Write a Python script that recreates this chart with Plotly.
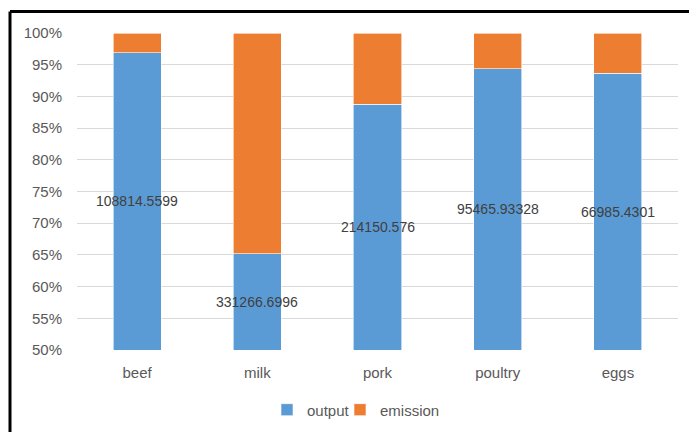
import plotly.graph_objects as go

# Livestock products: output vs. emission, shown as a 100% stacked column chart
categories = ["beef", "milk", "pork", "poultry", "eggs"]
output = [108814.5599, 331266.6996, 214150.576, 95465.93328, 66985.4301]
emission = [3504.0, 176811.0, 27173.0, 5706.0, 4527.0]
tick_vals = [50, 55, 60, 65, 70, 75, 80, 85, 90, 95, 100]
tick_text = [f"{v}%" for v in tick_vals]

BLUE = "#5B9BD5"
ORANGE = "#ED7D31"
FONT = "Liberation Sans"
TEXT = "#595959"

# Plot-area geometry in pixels (used to place the frame and legend)
W, H = 689, 432
L, R, T, B = 77, 11, 32.5, 82
pw, ph = W - L - R, H - T - B


def px_x(x):
    return (x - L) / pw


def px_y(y):
    return (H - B - y) / ph


fig = go.Figure()
fig.add_trace(go.Bar(name="output", x=categories, y=output, legend="legend",
                     marker=dict(color=BLUE, line=dict(color="white", width=0.6))))
fig.add_trace(go.Bar(name="emission", x=categories, y=emission, legend="legend2",
                     marker=dict(color=ORANGE, line=dict(color="white", width=0.6))))

# Value labels for the output segment, centred in the visible part of the column
y_min = 50
for c, o, e in zip(categories, output, emission):
    share = 100 * o / (o + e)
    fig.add_annotation(x=c, y=(y_min + share) / 2, text=f"{o}", showarrow=False,
                       font=dict(family=FONT, size=14, color="#404040"))

# Chart frame (top and left edges)
fig.add_shape(type="line", xref="paper", yref="paper",
              x0=px_x(10), x1=px_x(W + 5), y0=px_y(11), y1=px_y(11),
              line=dict(color="black", width=3))
fig.add_shape(type="line", xref="paper", yref="paper",
              x0=px_x(10), x1=px_x(10), y0=px_y(11), y1=px_y(H + 5),
              line=dict(color="black", width=3))

legend_common = dict(orientation="h", xanchor="left", y=px_y(410), yanchor="middle",
                     font=dict(family=FONT, size=15, color=TEXT),
                     itemwidth=30, bgcolor="rgba(0,0,0,0)")

fig.update_layout(
    width=W, height=H,
    margin=dict(l=L, r=R, t=T, b=B, autoexpand=False),
    paper_bgcolor="white", plot_bgcolor="white",
    barmode="stack", barnorm="percent", bargap=0.6,
    font=dict(family=FONT, size=15, color=TEXT),
    showlegend=True,
    legend=dict(x=px_x(267), **legend_common),
    legend2=dict(x=px_x(340), **legend_common),
    xaxis=dict(showline=False, ticks="", tickfont=dict(size=15, color=TEXT),
               ticklabelstandoff=12, automargin=False),
    yaxis=dict(range=[y_min, 100], tickvals=tick_vals, ticktext=tick_text,
               showgrid=True, gridcolor="#D9D9D9", gridwidth=1,
               zeroline=False, showline=False, ticks="",
               tickfont=dict(size=15, color=TEXT), ticklabelstandoff=14,
               automargin=False),
)

fig.write_html("out.html")
